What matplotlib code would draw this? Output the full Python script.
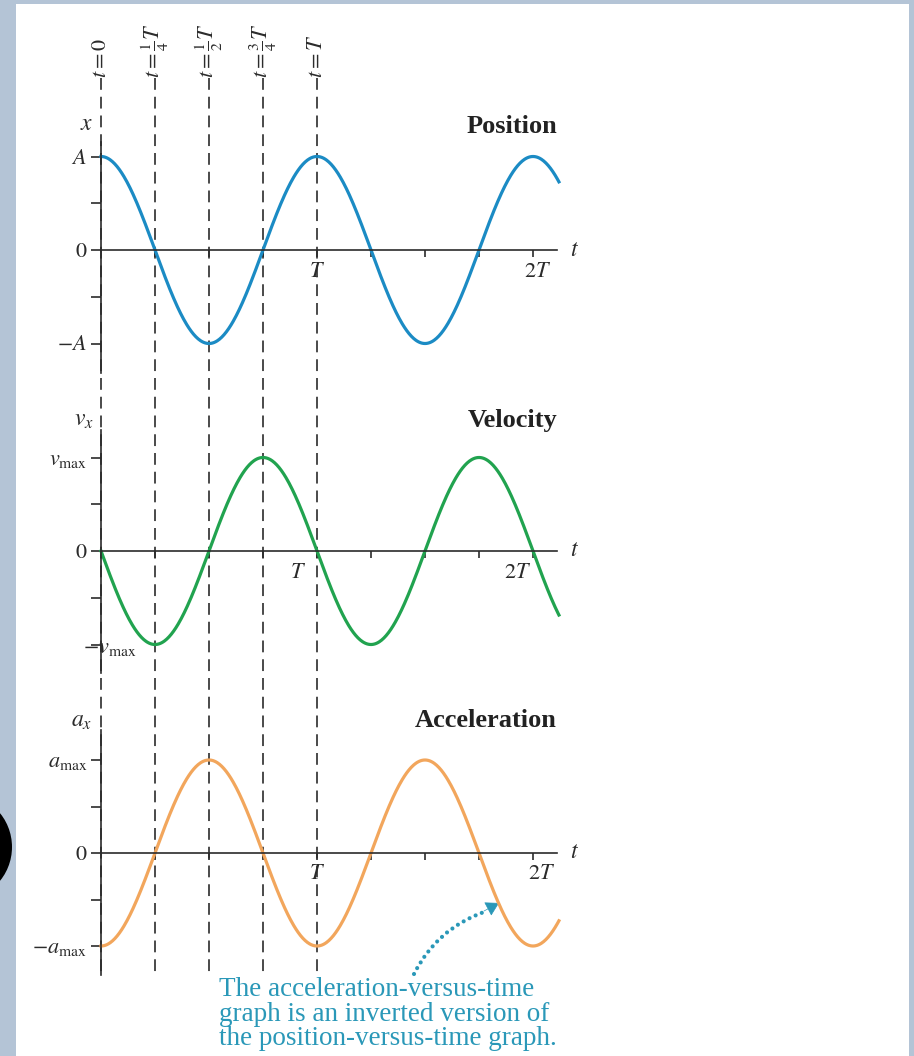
import numpy as np
import matplotlib.pyplot as plt
from matplotlib.patches import Rectangle, Ellipse, FancyArrowPatch

plt.rcParams['font.family'] = ['Liberation Serif', 'DejaVu Serif']
plt.rcParams['mathtext.fontset'] = 'stix'
plt.rcParams['lines.scale_dashes'] = False

# simple harmonic motion, time in units of the period T
period = 1.0
t_end = 2.12
omega = 2 * np.pi / period
t = np.linspace(0, t_end * period, 600)
position = np.cos(omega * t)
velocity = -np.sin(omega * t)
acceleration = -np.cos(omega * t)

marker_times = [0, 0.25, 0.5, 0.75, 1.0]
marker_labels = [r'$t = 0$', r'$t = \frac{1}{4}T$', r'$t = \frac{1}{2}T$',
                 r'$t = \frac{3}{4}T$', r'$t = T$']
tick_times = [0.25, 0.5, 0.75, 1.0, 1.25, 1.5, 1.75, 2.0]
levels = [1, 0.5, 0, -0.5, -1]

pos_labels = [r'$A$', '', r'$0$', '', r'$-A$']
vel_labels = [r'$v_{\rm max}$', '', r'$0$', '', '']
acc_labels = [r'$a_{\rm max}$', '', r'$0$', '', r'$-a_{\rm max}$']

W, H = 914, 1056
x0_px, px_per_T = 101, 216
xlim = (-x0_px / px_per_T, (W - x0_px) / px_per_T)

blue = '#1b8bc4'
green = '#21a34f'
orange = '#f2a65c'
teal = '#2a98b8'
ink = '#2b2b2b'

fig = plt.figure(figsize=(W / 100, H / 100), dpi=100, facecolor='#b4c4d6')

# slide background: white sheet and the black disc on the left edge
bg = fig.add_axes([0, 0, 1, 1])
bg.set_xlim(0, W)
bg.set_ylim(H, 0)
bg.axis('off')
bg.add_patch(Rectangle((16, 4), 893, 1060, fc='white', ec='none'))
bg.add_patch(Ellipse((-40, 847), 104, 106, fc='black', ec='none', clip_on=False))

# dashed guide lines at quarter periods
guide = fig.add_axes([0, 0, 1, 1])
guide.set_xlim(xlim)
guide.set_ylim(H, 0)
guide.axis('off')
guide.vlines(marker_times, 78, 972, colors=ink, lw=1.2, linestyles=[(0, (8.5, 5))])
for tm, lab in zip(marker_times, marker_labels):
    guide.text(tm, 78, lab, rotation=90, ha='center', va='bottom',
               fontsize=16, color=ink)


def panel(y0, amp, top, bottom, spine_lo, spine_hi):
    ax = fig.add_axes([0, 1 - bottom / H, 1, (bottom - top) / H])
    ax.set_xlim(xlim)
    ax.set_ylim((y0 - bottom) / amp, (y0 - top) / amp)
    ax.patch.set_alpha(0)
    for side in ['top', 'right']:
        ax.spines[side].set_visible(False)
    ax.spines['left'].set_position(('data', 0))
    ax.spines['bottom'].set_position(('data', 0))
    ax.spines['left'].set_bounds(spine_lo, spine_hi)
    ax.spines['bottom'].set_bounds(0, 2.11)
    for side in ['left', 'bottom']:
        ax.spines[side].set_color(ink)
        ax.spines[side].set_linewidth(1.2)
    ax.set_xticks(tick_times)
    ax.set_xticklabels([])
    ax.tick_params(axis='x', direction='out', length=5, width=1.2, color=ink)
    ax.tick_params(axis='y', direction='out', length=7, width=1.2, color=ink,
                   pad=3, labelsize=16, labelcolor=ink)
    ax.text(2.17, 0, r'$t$', fontsize=17, va='center', ha='left', color=ink)
    return ax


# position
ax1 = panel(250, 93.5, 90, 400, -1.32, 1.15)
ax1.plot(t, position, color=blue, lw=2.3)
ax1.set_yticks(levels, pos_labels)
ax1.text(-0.065, 1.34, r'$x$', fontsize=17, ha='center', va='center', color=ink)
ax1.text(1.0, -0.24, r'$T$', fontsize=16, ha='center', va='center', color=ink)
ax1.text(2.02, -0.24, r'$2T$', fontsize=16, ha='center', va='center', color=ink)

# velocity
ax2 = panel(551, 93.5, 395, 700, -1.31, 1.29)
ax2.plot(t, velocity, color=green, lw=2.3)
ax2.set_yticks(levels, vel_labels)
ax2.text(-0.08, 1.40, r'$v_x$', fontsize=17, ha='center', va='center', color=ink)
ax2.text(-0.085, -1.04, r'$-v_{\rm max}$', fontsize=16, ha='left', va='center', color=ink)
ax2.text(0.91, -0.24, r'$T$', fontsize=16, ha='center', va='center', color=ink)
ax2.text(1.93, -0.24, r'$2T$', fontsize=16, ha='center', va='center', color=ink)

# acceleration
ax3 = panel(853, 93, 700, 990, -1.31, 1.32)
ax3.plot(t, acceleration, color=orange, lw=2.3)
ax3.set_yticks(levels, acc_labels)
ax3.text(-0.09, 1.41, r'$a_x$', fontsize=17, ha='center', va='center', color=ink)
ax3.text(1.0, -0.23, r'$T$', fontsize=16, ha='center', va='center', color=ink)
ax3.text(2.04, -0.23, r'$2T$', fontsize=16, ha='center', va='center', color=ink)

# panel titles
for name, yb in [('Position', 133), ('Velocity', 427), ('Acceleration', 727)]:
    bg.text(557, yb, name, ha='right', va='baseline', fontsize=19,
            fontweight='bold', color='#222222')

# note under the acceleration graph
note = ['The acceleration-versus-time',
        'graph is an inverted version of',
        'the position-versus-time graph.']
for line, yb in zip(note, [996, 1021, 1045]):
    bg.text(219, yb, line, ha='left', va='baseline', fontsize=19.5, color=teal)

# dotted pointer from the note up to the curve
bg.add_patch(FancyArrowPatch((414, 974), (484, 912), arrowstyle='-',
                             connectionstyle='arc3,rad=-0.2', color=teal,
                             lw=3, linestyle=(0, (0.01, 4.8)), capstyle='round',
                             shrinkA=0, shrinkB=0))
bg.add_patch(FancyArrowPatch((484, 911), (499, 903),
                             arrowstyle='-|>,head_length=6,head_width=3.5',
                             color=teal, lw=0.5, mutation_scale=1.4,
                             shrinkA=0, shrinkB=0))

fig.savefig('out.png', dpi=100, facecolor=fig.get_facecolor())
